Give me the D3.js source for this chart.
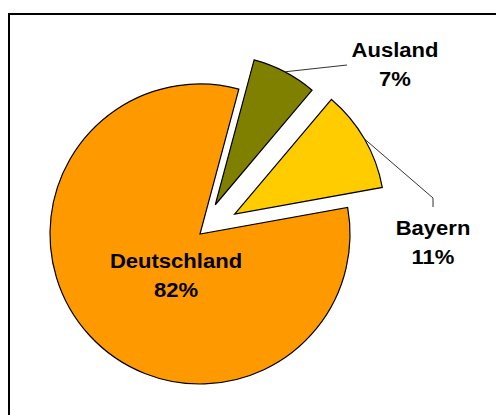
<!DOCTYPE html>
<html lang="de">
<head>
    <meta charset="UTF-8">
    <title>Herkunft</title>
    <script src="https://d3js.org/d3.v7.min.js"></script>
    <style>
        body { margin: 0; background: #fff; }
        svg { display: block; }
        .label { font-family: "Liberation Sans", Arial, sans-serif; font-weight: bold; font-size: 19.5px; fill: #000; }
    </style>
</head>
<body>
    <svg width="496" height="415"></svg>

    <script>
        // Daten
        const categories = ["Ausland", "Bayern", "Deutschland"];
        const shares = [7, 11, 82];
        const colors = ["#808000", "#FFCC00", "#FF9900"];
        const explode = [33, 40, 0];   // Herausgezogene Segmente (px)

        const width = 496, height = 415;
        const cx = 200, cy = 234, radius = 150;
        const startDeg = 15;

        // Beschriftung: Mitte/Grundlinie der ersten Zeile, Ende der Führungslinie
        const labelLayout = {
            "Ausland":     { x: 395, y: 57,  leader: [[347, 65]] },
            "Bayern":      { x: 433, y: 235, leader: [[433, 198], [433, 207]] },
            "Deutschland": { x: 176, y: 268, leader: null }
        };

        const svg = d3.select("svg");

        // Rahmen (läuft rechts und unten aus dem Bild)
        svg.append("rect")
            .attr("x", 9).attr("y", 14)
            .attr("width", 600).attr("height", 500)
            .attr("fill", "none")
            .attr("stroke", "#000")
            .attr("stroke-width", 2);

        const data = categories.map((c, i) => ({ name: c, value: shares[i], color: colors[i], explode: explode[i] }));

        const pie = d3.pie()
            .sort(null)
            .value(d => d.value)
            .startAngle(startDeg * Math.PI / 180)
            .endAngle((startDeg + 360) * Math.PI / 180);

        const arc = d3.arc().innerRadius(0).outerRadius(radius);

        const arcs = pie(data);

        const slices = svg.append("g")
            .attr("transform", `translate(${cx},${cy})`);

        const offset = d => {
            const mid = (d.startAngle + d.endAngle) / 2;
            return d3.pointRadial(mid, d.data.explode);
        };

        slices.selectAll("path")
            .data(arcs)
            .join("path")
            .attr("transform", d => `translate(${offset(d)})`)
            .attr("d", arc)
            .attr("fill", d => d.data.color)
            .attr("stroke", "#000")
            .attr("stroke-width", 1.2)
            .attr("stroke-linejoin", "miter");

        // Führungslinien
        arcs.forEach(d => {
            const lay = labelLayout[d.data.name];
            if (!lay.leader) return;
            const mid = (d.startAngle + d.endAngle) / 2;
            const [ox, oy] = offset(d);
            const [px, py] = d3.pointRadial(mid, radius);
            const pts = [[cx + ox + px, cy + oy + py], ...lay.leader];
            svg.append("path")
                .attr("d", d3.line()(pts))
                .attr("fill", "none")
                .attr("stroke", "#333")
                .attr("stroke-width", 1);
        });

        // Beschriftungen
        arcs.forEach(d => {
            const lay = labelLayout[d.data.name];
            const t = svg.append("text")
                .attr("class", "label")
                .attr("text-anchor", "middle")
                .attr("transform", `translate(${lay.x},${lay.y}) scale(1.13,1)`);
            t.append("tspan").attr("x", 0).attr("y", 0).text(d.data.name);
            t.append("tspan").attr("x", 0).attr("y", 29).text(`${d.data.value}%`);
        });
    </script>
</body>
</html>
